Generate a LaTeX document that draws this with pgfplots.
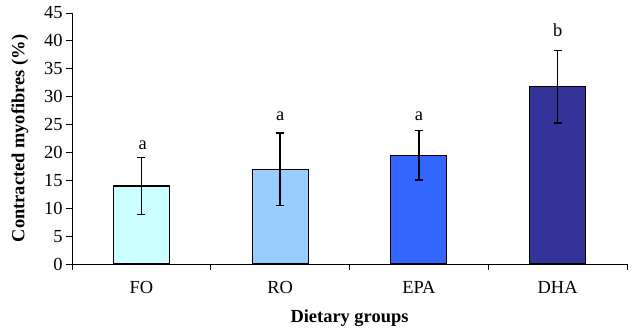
\documentclass[border=0pt]{standalone}
\usepackage{pgfplots}
\pgfplotsset{compat=1.18}
\usepackage{fontspec}
\setmainfont{Liberation Serif}
\definecolor{cFO}{HTML}{CCFFFF}
\definecolor{cRO}{HTML}{99CCFF}
\definecolor{cEPA}{HTML}{3366FF}
\definecolor{cDHA}{HTML}{333399}
\newcommand{\fs}{\fontsize{18.5}{20}\selectfont}
\begin{document}
\begin{tikzpicture}
\begin{axis}[
  at={(0,0)}, anchor=south west,
  scale only axis, width=555bp, height=251bp,
  xmin=0, xmax=4, ymin=0, ymax=45,
  axis x line*=bottom, axis y line*=left,
  axis line style={line width=0.8bp, black},
  xtick={0.5,1.5,2.5,3.5},
  xticklabels={FO,RO,EPA,DHA},
  minor xtick={0,1,2,3,4},
  major x tick style={draw=none},
  ytick={0,5,...,45},
  tick align=outside,
  major tick length=6bp, minor tick length=6bp,
  tick style={line width=0.8bp, black},
  ticklabel style={font=\fs},
  xticklabel style={yshift=-8bp},
  /pgf/number format/assume math mode=true,
  every axis y label/.style={at={(axis description cs:0,0.5)}, xshift=-52bp, rotate=90, anchor=center, font=\fs\bfseries},
  every axis x label/.style={at={(axis description cs:0.5,0)}, yshift=-54bp, anchor=center, font=\fs\bfseries},
  ylabel={Contracted myofibres (\%)},
  xlabel={Dietary groups},
  ybar, bar width=56bp, bar shift=0pt,
  error bars/error bar style={line width=1.6bp, black},
  error bars/error mark options={rotate=90, mark size=4bp, line width=1.6bp, black},
  clip=false,
]
\addplot[fill=cFO, draw=black, line width=1.2bp, error bars/.cd, y dir=both, y explicit]
  coordinates {(0.5,14.0) +- (0,5.1)};
\addplot[fill=cRO, draw=black, line width=1.2bp, error bars/.cd, y dir=both, y explicit]
  coordinates {(1.5,17.0) +- (0,6.5)};
\addplot[fill=cEPA, draw=black, line width=1.2bp, error bars/.cd, y dir=both, y explicit]
  coordinates {(2.5,19.5) +- (0,4.4)};
\addplot[fill=cDHA, draw=black, line width=1.2bp, error bars/.cd, y dir=both, y explicit]
  coordinates {(3.5,31.8) +- (0,6.5)};
\node[font=\fs] at (axis cs:0.51,21.2) {a};
\node[font=\fs] at (axis cs:1.5,26.4) {a};
\node[font=\fs] at (axis cs:2.5,26.5) {a};
\node[font=\fs] at (axis cs:3.5,42.0) {b};
\end{axis}
\pgfresetboundingbox
\path[use as bounding box] (-72bp,-69bp) rectangle (560bp,264bp);
\end{tikzpicture}
\end{document}
